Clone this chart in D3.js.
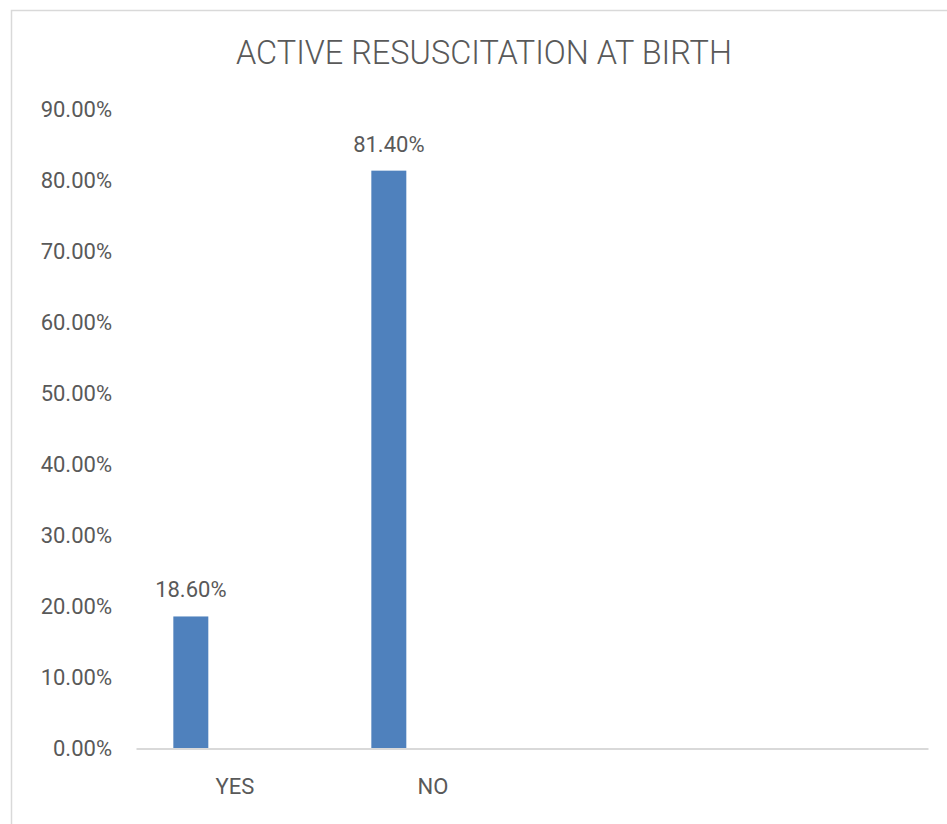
<!DOCTYPE html>
<html>
<head>
<meta charset="utf-8">
<script src="https://cdn.jsdelivr.net/npm/d3@7"></script>
<style>
  html, body { margin: 0; padding: 0; background: #fff; }
  svg { display: block; }
  text { font-family: Roboto, "Open Sans", sans-serif; fill: #595959; }
</style>
</head>
<body>
<script>
// Chart data
const categories = ["YES", "NO", "", ""];
const values = [0.186, 0.814, null, null];
const yTicks = [0, 0.1, 0.2, 0.3, 0.4, 0.5, 0.6, 0.7, 0.8, 0.9];
const title = "ACTIVE RESUSCITATION AT BIRTH";

const W = 947, H = 824;
const plot = { left: 136, right: 928, top: 109.6, bottom: 748.5 };

const svg = d3.select("body").append("svg")
  .attr("width", W).attr("height", H);

// Chart area frame
svg.append("rect")
  .attr("x", 11.5).attr("y", 10.5)
  .attr("width", 1000).attr("height", 1000)
  .attr("fill", "none")
  .attr("stroke", "#D9D9D9")
  .attr("stroke-width", 1.5);

// Title
svg.append("text")
  .attr("x", 484).attr("y", 64)
  .attr("text-anchor", "middle")
  .attr("font-size", 34)
  .attr("font-weight", 300)
  .attr("textLength", 496)
  .attr("lengthAdjust", "spacingAndGlyphs")
  .text(title);

// Scales
const x = d3.scaleBand()
  .domain(d3.range(categories.length))
  .range([plot.left, plot.right])
  .padding(0);

const xBar = d3.scaleBand()
  .domain(["value"])
  .range([0, x.bandwidth()])
  .paddingInner(0)
  .paddingOuter(2.33)
  .align(0.229);

const y = d3.scaleLinear()
  .domain([0, 0.9])
  .range([plot.bottom, plot.top]);

// Y axis labels (no axis line, no gridlines)
const yAxis = svg.append("g")
  .attr("transform", `translate(${plot.left - 24},0)`)
  .call(d3.axisLeft(y).tickValues(yTicks).tickFormat(d3.format(".2%")).tickSize(0).tickPadding(0));
yAxis.select(".domain").remove();
yAxis.selectAll("text")
  .attr("font-size", 22)
  .attr("fill", "#595959")
  .attr("font-family", "Roboto, 'Open Sans', sans-serif");

// Bars
const rows = categories.map((c, i) => ({ i, c, v: values[i] })).filter(d => d.v != null);

svg.append("g").selectAll("rect")
  .data(rows)
  .join("rect")
  .attr("x", d => x(d.i) + xBar("value"))
  .attr("width", xBar.bandwidth())
  .attr("y", d => y(d.v))
  .attr("height", d => y(0) - y(d.v))
  .attr("fill", "#4F81BD");

// Value labels
svg.append("g").selectAll("text")
  .data(rows)
  .join("text")
  .attr("x", d => x(d.i) + xBar("value") + xBar.bandwidth() / 2)
  .attr("y", d => y(d.v) - 19)
  .attr("text-anchor", "middle")
  .attr("font-size", 22)
  .text(d => d3.format(".2%")(d.v));

// X axis
const xAxis = svg.append("g")
  .attr("transform", `translate(0,${y(0)})`)
  .call(d3.axisBottom(x).tickFormat(i => categories[i]).tickSize(0).tickPadding(0));
xAxis.select(".domain")
  .attr("stroke", "#D9D9D9")
  .attr("stroke-width", 2);
xAxis.selectAll("text")
  .attr("dy", null)
  .attr("y", 45.5)
  .attr("font-size", 22)
  .attr("fill", "#595959")
  .attr("font-family", "Roboto, 'Open Sans', sans-serif");
</script>
</body>
</html>
